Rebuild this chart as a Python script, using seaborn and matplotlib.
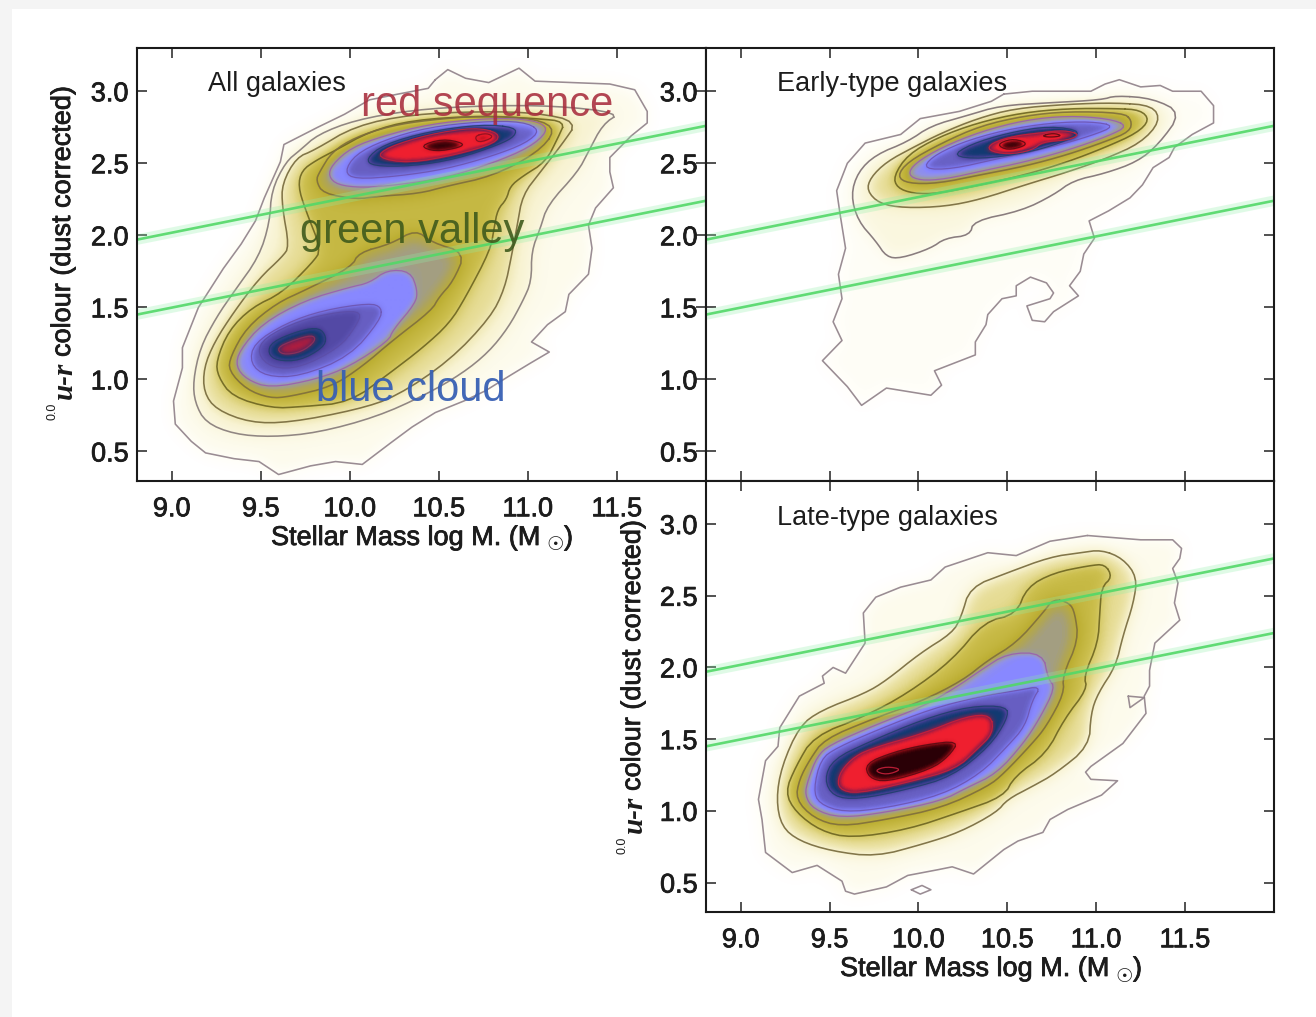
import numpy as np
import matplotlib
matplotlib.use("Agg")
import matplotlib.pyplot as plt
import matplotlib.patheffects as pe
from matplotlib.colors import LinearSegmentedColormap
from matplotlib.path import Path
from matplotlib.patches import Rectangle
import seaborn as sns

# ---------- axis data ----------
MASS_TICKS = [9.0, 9.5, 10.0, 10.5, 11.0, 11.5]
COLOUR_TICKS = [0.5, 1.0, 1.5, 2.0, 2.5, 3.0]
# green-valley boundaries: (mass, colour) at the panel edges
VALLEY_MASS = [8.805, 12.0]
VALLEY_UPPER = [1.97, 2.76]
VALLEY_LOWER = [1.45, 2.24]

# ---------- All galaxies: contours (mass, colour) ----------
ALL_0 = [(10.48,3.08),(10.55,3.15),(10.65,3.09),(10.78,3.06),(10.95,3.16),(11.04,3.07),(11.25,3.06),(11.46,3.05),(11.60,3.01),(11.67,2.86),(11.67,2.78),(11.58,2.69),(11.46,2.54),(11.46,2.44),(11.48,2.33),(11.38,2.19),(11.34,2.07),(11.36,1.91),(11.34,1.73),(11.23,1.59),(11.21,1.47),(11.11,1.38),(11.02,1.26),(11.12,1.19),(11.01,1.11),(10.89,1.02),(10.76,0.92),(10.64,0.85),(10.48,0.77),(10.35,0.67),(10.23,0.56),(10.07,0.41),(9.92,0.43),(9.78,0.40),(9.60,0.34),(9.49,0.43),(9.35,0.45),(9.19,0.49),(9.11,0.57),(9.02,0.69),(9.01,0.85),(9.06,1.08),(9.06,1.22),(9.15,1.50),(9.29,1.77),(9.39,1.94),(9.47,2.10),(9.52,2.26),(9.61,2.51),(9.63,2.63),(9.82,2.75),(9.97,2.84),(10.11,2.94),(10.27,2.98),(10.44,3.02)]
ALL_1 = [(11.52,2.85),(11.42,2.77),(11.34,2.58),(11.28,2.44),(11.11,2.21),(11.07,2.05),(11.02,1.89),(11.02,1.68),(10.97,1.54),(10.89,1.36),(10.78,1.19),(10.63,1.04),(10.42,0.89),(10.15,0.74),(9.82,0.63),(9.56,0.60),(9.35,0.62),(9.19,0.70),(9.13,0.84),(9.12,0.99),(9.16,1.22),(9.25,1.43),(9.35,1.61),(9.49,1.85),(9.55,2.09),(9.56,2.31),(9.64,2.51),(9.72,2.59),(9.82,2.70),(10.03,2.80),(10.35,2.87),(10.74,2.90),(11.15,2.90)]
ALL_2 = [(11.28,2.79),(11.19,2.63),(11.07,2.44),(10.97,2.28),(10.94,2.07),(10.91,1.87),(10.87,1.63),(10.79,1.43),(10.56,1.13),(10.26,0.88),(10.04,0.79),(9.66,0.70),(9.44,0.70),(9.25,0.79),(9.18,0.91),(9.18,1.08),(9.24,1.26),(9.35,1.47),(9.49,1.70),(9.62,1.85),(9.66,1.92),(9.62,2.20),(9.62,2.36),(9.70,2.54),(9.80,2.59),(10.03,2.76),(10.35,2.84),(10.74,2.86),(11.05,2.85)]
ALL_3 = [(11.21,2.79),(11.17,2.68),(11.10,2.51),(10.97,2.41),(10.90,2.34),(10.88,2.25),(10.83,2.18),(10.81,2.05),(10.79,1.90),(10.65,1.57),(10.56,1.39),(10.41,1.22),(10.22,1.04),(10.00,0.84),(9.73,0.81),(9.56,0.80),(9.34,0.88),(9.26,1.02),(9.25,1.13),(9.32,1.34),(9.45,1.50),(9.62,1.60),(9.79,1.81),(9.84,1.90),(9.75,2.18),(9.71,2.34),(9.73,2.45),(9.81,2.52),(9.92,2.59),(10.11,2.72),(10.35,2.80),(10.74,2.83),(11.05,2.81)]
ALL_4_RED = [(11.16,2.73),(11.05,2.57),(10.80,2.41),(10.54,2.34),(10.39,2.29),(10.15,2.27),(10.04,2.25),(9.85,2.29),(9.81,2.38),(9.83,2.44),(9.90,2.58),(10.03,2.68),(10.23,2.76),(10.44,2.80),(10.74,2.83),(11.05,2.81)]
ALL_4_BLUE = [(10.05,1.88),(10.23,1.94),(10.37,2.04),(10.46,1.95),(10.65,1.88),(10.58,1.68),(10.50,1.57),(10.46,1.48),(10.24,1.27),(10.07,1.09),(9.90,0.95),(9.66,0.88),(9.55,0.87),(9.42,0.93),(9.32,1.06),(9.33,1.16),(9.42,1.36),(9.59,1.53),(9.75,1.62),(10.01,1.78)]
ALL_5_RED = [(11.11,2.72),(11.08,2.78),(10.95,2.81),(10.74,2.81),(10.44,2.77),(10.19,2.69),(10.01,2.61),(9.90,2.49),(9.88,2.41),(9.93,2.35),(10.07,2.33),(10.27,2.35),(10.54,2.40),(10.80,2.50),(11.01,2.61)]
ALL_5_BLUE = [(10.21,1.76),(10.34,1.75),(10.38,1.62),(10.37,1.53),(10.24,1.34),(10.22,1.27),(10.00,1.09),(9.81,1.00),(9.55,0.94),(9.42,1.00),(9.36,1.09),(9.38,1.20),(9.51,1.39),(9.75,1.55),(10.00,1.64),(10.11,1.67)]
ALL_6_RED = [(11.07,2.73),(10.97,2.79),(10.74,2.79),(10.44,2.75),(10.19,2.66),(10.03,2.56),(9.97,2.44),(10.03,2.39),(10.27,2.41),(10.54,2.46),(10.80,2.55),(10.99,2.64)]
ALL_6_BLUE = [(10.18,1.50),(10.17,1.41),(10.00,1.16),(9.72,1.02),(9.53,1.02),(9.44,1.11),(9.46,1.25),(9.64,1.39),(9.85,1.48),(10.11,1.53)]
ALL_7_BLUE = [(10.03,1.36),(9.94,1.22),(9.72,1.08),(9.56,1.08),(9.48,1.18),(9.52,1.29),(9.72,1.41),(9.94,1.47),(10.07,1.47)]
ALL_8_RED = [(10.93,2.75),(10.74,2.77),(10.44,2.72),(10.19,2.63),(10.09,2.53),(10.13,2.48),(10.35,2.48),(10.60,2.53),(10.84,2.63),(10.93,2.69)]
ALL_8_BLUE = [(9.87,1.29),(9.85,1.22),(9.72,1.13),(9.59,1.13),(9.54,1.18),(9.56,1.26),(9.72,1.34),(9.83,1.36)]
ALL_9_RED = [(10.84,2.71),(10.70,2.75),(10.44,2.70),(10.21,2.61),(10.15,2.54),(10.33,2.50),(10.60,2.56),(10.82,2.64)]
ALL_9_BLUE = [(9.81,1.27),(9.73,1.19),(9.62,1.17),(9.59,1.22),(9.68,1.27),(9.79,1.31)]
ALL_10_A = [(10.64,2.64),(10.52,2.67),(10.39,2.62),(10.48,2.58),(10.62,2.61)]
ALL_10_B = [(10.70,2.69),(10.77,2.71),(10.81,2.68),(10.72,2.64)]

# ---------- Early-type galaxies ----------
EARLY_0 = [(10.48,2.98),(10.64,3.00),(10.97,3.00),(11.05,3.05),(11.13,3.08),(11.25,3.03),(11.36,3.04),(11.43,3.00),(11.59,3.00),(11.66,2.90),(11.66,2.78),(11.54,2.70),(11.44,2.61),(11.41,2.54),(11.32,2.47),(11.26,2.35),(11.19,2.26),(11.07,2.17),(10.96,2.10),(10.99,1.98),(10.93,1.87),(10.91,1.75),(10.85,1.65),(10.90,1.58),(10.76,1.47),(10.71,1.40),(10.64,1.41),(10.61,1.51),(10.74,1.56),(10.76,1.60),(10.72,1.67),(10.63,1.71),(10.55,1.65),(10.55,1.58),(10.47,1.56),(10.39,1.45),(10.38,1.38),(10.32,1.26),(10.32,1.17),(10.09,1.06),(10.13,0.96),(10.07,0.89),(9.82,0.94),(9.68,0.82),(9.60,0.95),(9.46,1.13),(9.57,1.27),(9.52,1.40),(9.57,1.56),(9.55,1.73),(9.59,1.91),(9.56,2.14),(9.54,2.31),(9.60,2.50),(9.70,2.64),(9.90,2.70),(10.01,2.81),(10.23,2.86),(10.41,2.93)]
EARLY_1 = [(11.11,2.97),(11.32,2.95),(11.48,2.85),(11.35,2.63),(11.23,2.51),(11.05,2.43),(10.87,2.38),(10.76,2.28),(10.58,2.17),(10.31,2.10),(10.29,2.00),(10.15,1.98),(10.07,1.91),(9.90,1.84),(9.82,1.85),(9.76,1.96),(9.66,2.10),(9.62,2.28),(9.66,2.44),(9.76,2.56),(9.94,2.65),(10.07,2.76),(10.27,2.83),(10.46,2.90),(10.74,2.92),(11.03,2.94)]
EARLY_2 = [(11.11,2.92),(11.32,2.90),(11.36,2.79),(11.25,2.64),(11.05,2.53),(10.84,2.44),(10.60,2.35),(10.35,2.25),(10.15,2.20),(9.92,2.19),(9.78,2.22),(9.71,2.31),(9.73,2.40),(9.82,2.51),(9.97,2.61),(10.13,2.71),(10.33,2.81),(10.54,2.88),(10.84,2.91)]
EARLY_3 = [(11.11,2.88),(11.25,2.87),(11.30,2.80),(11.23,2.71),(11.05,2.61),(10.84,2.51),(10.60,2.42),(10.35,2.35),(10.11,2.29),(9.97,2.29),(9.88,2.33),(9.86,2.41),(9.94,2.56),(10.11,2.68),(10.33,2.78),(10.58,2.85),(10.84,2.88)]
EARLY_4 = [(11.20,2.80),(11.15,2.85),(10.84,2.86),(10.60,2.83),(10.35,2.76),(10.13,2.64),(9.94,2.51),(9.88,2.41),(9.94,2.36),(10.11,2.36),(10.35,2.42),(10.60,2.48),(10.84,2.56),(11.05,2.65),(11.19,2.72)]
EARLY_5 = [(11.18,2.76),(11.07,2.81),(10.84,2.83),(10.60,2.80),(10.35,2.72),(10.13,2.61),(9.98,2.50),(9.94,2.42),(10.01,2.38),(10.15,2.39),(10.37,2.45),(10.60,2.51),(10.84,2.59),(11.07,2.69)]
EARLY_6 = [(11.11,2.76),(10.97,2.79),(10.74,2.78),(10.48,2.73),(10.23,2.64),(10.07,2.54),(10.03,2.46),(10.19,2.46),(10.44,2.53),(10.74,2.61),(10.97,2.69)]
EARLY_7 = [(10.93,2.72),(10.74,2.76),(10.50,2.71),(10.29,2.63),(10.19,2.55),(10.35,2.53),(10.60,2.57),(10.80,2.64)]
EARLY_8 = [(10.91,2.70),(10.82,2.73),(10.68,2.71),(10.54,2.69),(10.41,2.64),(10.39,2.59),(10.50,2.56),(10.64,2.59),(10.70,2.65),(10.84,2.66)]
EARLY_9_A = [(10.60,2.65),(10.52,2.67),(10.44,2.63),(10.50,2.59),(10.60,2.62)]
EARLY_9_B = [(10.69,2.69),(10.76,2.71),(10.81,2.69),(10.74,2.68)]

# ---------- Late-type galaxies ----------
LATE_0 = [(10.95,2.92),(11.05,2.91),(11.25,2.89),(11.43,2.89),(11.48,2.83),(11.47,2.76),(11.43,2.69),(11.46,2.59),(11.44,2.45),(11.47,2.33),(11.33,2.17),(11.30,1.98),(11.30,1.87),(11.27,1.80),(11.28,1.68),(11.15,1.47),(10.97,1.31),(10.94,1.27),(10.97,1.22),(11.12,1.21),(11.03,1.11),(10.84,1.01),(10.74,0.94),(10.70,0.85),(10.56,0.79),(10.48,0.73),(10.31,0.56),(10.19,0.61),(10.11,0.59),(9.94,0.55),(9.82,0.47),(9.64,0.42),(9.59,0.44),(9.57,0.51),(9.43,0.62),(9.29,0.57),(9.14,0.71),(9.12,0.94),(9.10,1.08),(9.14,1.35),(9.21,1.45),(9.22,1.58),(9.33,1.80),(9.47,1.89),(9.46,1.94),(9.52,2.00),(9.59,1.96),(9.70,2.17),(9.69,2.38),(9.76,2.49),(9.90,2.56),(10.07,2.61),(10.15,2.70),(10.39,2.80),(10.55,2.78),(10.74,2.88)]
LATE_1 = [(11.03,2.82),(11.15,2.76),(11.23,2.63),(11.21,2.45),(11.15,2.22),(11.11,2.01),(11.01,1.82),(10.97,1.68),(10.96,1.45),(10.77,1.26),(10.64,1.17),(10.50,1.08),(10.44,0.99),(10.23,0.85),(10.03,0.77),(9.76,0.68),(9.51,0.72),(9.33,0.79),(9.23,0.89),(9.20,1.08),(9.23,1.31),(9.33,1.59),(9.45,1.70),(9.70,1.82),(9.82,1.91),(10.01,2.10),(10.19,2.24),(10.24,2.35),(10.29,2.56),(10.50,2.66),(10.74,2.77),(10.91,2.80)]
LATE_2 = [(11.05,2.72),(11.09,2.63),(11.03,2.56),(11.02,2.38),(11.01,2.17),(10.93,1.94),(10.95,1.85),(10.82,1.64),(10.72,1.40),(10.54,1.24),(10.48,1.10),(10.23,0.99),(9.94,0.87),(9.62,0.81),(9.45,0.86),(9.31,0.99),(9.25,1.13),(9.31,1.31),(9.41,1.52),(9.70,1.66),(9.94,1.82),(10.19,2.05),(10.37,2.32),(10.55,2.37),(10.61,2.56),(10.76,2.66),(10.96,2.71)]
LATE_3 = [(10.76,2.48),(10.85,2.45),(10.88,2.38),(10.90,2.19),(10.81,1.94),(10.82,1.82),(10.72,1.59),(10.64,1.47),(10.48,1.26),(10.39,1.17),(10.13,1.02),(9.82,0.94),(9.56,0.89),(9.41,0.95),(9.31,1.08),(9.33,1.22),(9.39,1.36),(9.47,1.50),(9.74,1.64),(10.01,1.76),(10.25,1.91),(10.39,2.05),(10.55,2.17),(10.70,2.38)]
LATE_4 = [(10.70,2.10),(10.73,1.92),(10.77,1.86),(10.68,1.64),(10.59,1.47),(10.44,1.26),(10.27,1.16),(10.13,1.07),(9.82,0.99),(9.56,0.95),(9.41,1.01),(9.36,1.11),(9.38,1.22),(9.43,1.38),(9.50,1.46),(9.76,1.60),(10.03,1.73),(10.21,1.86),(10.35,1.98),(10.50,2.10)]
LATE_5 = [(10.69,1.87),(10.64,1.77),(10.60,1.59),(10.50,1.45),(10.35,1.26),(10.13,1.11),(9.82,1.02),(9.58,0.99),(9.44,1.05),(9.41,1.15),(9.45,1.36),(9.54,1.44),(9.78,1.57),(10.07,1.71),(10.35,1.80),(10.56,1.84)]
LATE_6 = [(10.50,1.73),(10.50,1.64),(10.40,1.45),(10.19,1.24),(9.94,1.15),(9.66,1.08),(9.52,1.10),(9.47,1.22),(9.52,1.36),(9.72,1.48),(10.03,1.64),(10.29,1.73)]
LATE_7 = [(10.41,1.67),(10.42,1.54),(10.33,1.43),(10.21,1.29),(9.94,1.20),(9.66,1.12),(9.55,1.15),(9.55,1.25),(9.62,1.36),(9.72,1.43),(10.03,1.54),(10.27,1.66)]
LATE_8 = [(10.23,1.49),(10.17,1.38),(10.07,1.29),(9.82,1.20),(9.72,1.23),(9.70,1.33),(9.86,1.41),(10.03,1.46)]
LATE_CORE = [(9.91,1.29),(9.82,1.25),(9.75,1.28),(9.82,1.31)]
LATE_ISLAND_A = [(11.18,1.80),(11.27,1.79),(11.19,1.72)]
LATE_ISLAND_B = [(9.96,0.45),(10.02,0.48),(10.07,0.45),(10.01,0.42)]

ALL_LAYERS = [(ALL_0,1),(ALL_1,2),(ALL_2,3),(ALL_3,4),(ALL_4_RED,5),(ALL_4_BLUE,5),(ALL_5_RED,6),(ALL_5_BLUE,6),
              (ALL_6_RED,7),(ALL_6_BLUE,7),(ALL_7_BLUE,7.4),(ALL_8_RED,8),(ALL_8_BLUE,8),(ALL_9_RED,9),(ALL_9_BLUE,8.7),
              (ALL_10_A,10),(ALL_10_B,9.6)]
EARLY_LAYERS = [(EARLY_0,0.5),(EARLY_1,1.5),(EARLY_2,3),(EARLY_3,4),(EARLY_4,5),(EARLY_5,6),(EARLY_6,7),(EARLY_7,8),
                (EARLY_8,9),(EARLY_9_A,10),(EARLY_9_B,10)]
LATE_LAYERS = [(LATE_0,1),(LATE_1,3),(LATE_2,4),(LATE_3,5),(LATE_4,6),(LATE_5,7),(LATE_6,8),(LATE_7,9),(LATE_8,10)]
LATE_OUTLINES = [(LATE_CORE,9),(LATE_ISLAND_A,1),(LATE_ISLAND_B,1)]

# ---------- styling ----------
W, H = 1316, 1017
FONT = ['Liberation Sans', 'DejaVu Sans']
INK = '#1c1c1c'
XLIM = (8.805, 12.0)
YLIM = (0.295, 3.30)

sns.set_theme(style='ticks')
plt.rcParams['font.family'] = FONT
plt.rcParams['axes.unicode_minus'] = False

RAMP = [(0.0, '#ffffff'), (0.4, '#fffef8'), (1.0, '#fdfbec'), (2.0, '#f8f3d2'), (3.0, '#e6dc94'), (3.7, '#cdc050'),
        (4.4, '#bcae32'), (4.8, '#aea45c'), (5.0, '#a29e86'), (5.45, '#9c9ca0'), (5.8, '#9292e4'), (6.0, '#8888ff'),
        (6.6, '#7a76ea'), (7.0, '#6860c4'), (7.6, '#4a3f98'), (8.0, '#123a72'), (8.5, '#80204e'), (8.8, '#c01c3a'),
        (9.0, '#f02030'), (9.4, '#e01828'), (9.7, '#700810'), (10.0, '#2a0006')]
CMAP = LinearSegmentedColormap.from_list('density', [(v / 10, c) for v, c in RAMP])
LINE_COLOURS = {0.5: '#8f8088', 1: '#8f8088', 1.5: '#7d6f72', 2: '#857a78', 3: '#75683a', 4: '#6c6420', 5: '#7f6e3c',
                6: '#9a5fae', 7: '#6d55b0', 7.4: '#5c4ea8', 8: '#20406e', 8.7: '#90305a', 9: '#c8203a', 9.6: '#8a1020', 10: '#5a0a12'}
HEAVY = [pe.withStroke(linewidth=0.55, foreground=INK)]


def fx(px):
    return px / W


def fy(py):
    return 1 - py / H


def rounded(points, level):
    pts = np.array(points + [points[0]], dtype=float)
    if level <= 1:
        return pts
    for _ in range(2):
        closed = pts[:-1]
        nxt = np.roll(closed, -1, axis=0)
        q = 0.75 * closed + 0.25 * nxt
        r = 0.25 * closed + 0.75 * nxt
        pts = np.empty((2 * len(closed) + 1, 2))
        pts[:-1:2], pts[1:-1:2] = q, r
        pts[-1] = q[0]
    return pts


def blur(a, sigma):
    radius = int(3 * sigma)
    kernel = np.exp(-0.5 * (np.arange(-radius, radius + 1) / sigma) ** 2)
    kernel /= kernel.sum()
    a = np.apply_along_axis(lambda v: np.convolve(v, kernel, mode='same'), 0, a)
    return np.apply_along_axis(lambda v: np.convolve(v, kernel, mode='same'), 1, a)


MASS_AXIS = np.linspace(XLIM[0], XLIM[1], 568)
COLOUR_AXIS = np.linspace(YLIM[0], YLIM[1], 432)
GRID = np.column_stack([g.ravel() for g in np.meshgrid(MASS_AXIS, COLOUR_AXIS)])


def panel(ax, layers, outlines=()):
    field = np.zeros((len(COLOUR_AXIS), len(MASS_AXIS)))
    shapes = []
    for points, level in layers:
        pts = rounded(points, level)
        shapes.append((pts, level))
        mask = Path(pts).contains_points(GRID).reshape(field.shape)
        field[mask] = np.maximum(field[mask], level)
    smooth = blur(np.minimum(field, 5.0), 8.0) + blur(np.maximum(field - 5.0, 0.0), 2.8)
    ax.imshow(smooth, origin='lower', extent=(*XLIM, *YLIM), cmap=CMAP, vmin=0, vmax=10, aspect='auto',
              interpolation='bilinear', zorder=1)
    shapes += [(rounded(p, lv), lv) for p, lv in outlines]
    for pts, level in shapes:
        sns.lineplot(x=pts[:, 0], y=pts[:, 1], sort=False, estimator=None, ax=ax, legend=False, zorder=2,
                     color=LINE_COLOURS[level], linewidth=1.15 if level < 6 else 0.9, alpha=0.9)
    for upper in (VALLEY_UPPER, VALLEY_LOWER):
        sns.lineplot(x=VALLEY_MASS, y=upper, sort=False, estimator=None, ax=ax, legend=False, zorder=3,
                     color='#8ff0a8', linewidth=7.5, alpha=0.28)
        sns.lineplot(x=VALLEY_MASS, y=upper, sort=False, estimator=None, ax=ax, legend=False, zorder=3,
                     color='#52d868', linewidth=1.9, alpha=0.9)
    ax.set_xlim(*XLIM)
    ax.set_ylim(*YLIM)
    ax.set_xticks(MASS_TICKS)
    ax.set_yticks(COLOUR_TICKS)
    ax.set_xticklabels([f'{v:.1f}' for v in MASS_TICKS])
    ax.set_yticklabels([f'{v:.1f}' for v in COLOUR_TICKS])
    ax.set_xlabel('')
    ax.set_ylabel('')
    ax.set_axisbelow(False)
    ax.tick_params(direction='in', length=7, width=1.1, color='#222222', top=True, right=True,
                   labelsize=19.5, labelcolor=INK)
    ax.tick_params(axis='x', pad=11)
    ax.tick_params(axis='y', pad=6)
    for label in ax.get_xticklabels() + ax.get_yticklabels():
        label.set_path_effects(HEAVY)
    for spine in ax.spines.values():
        spine.set_linewidth(1.5)
        spine.set_color('#1a1a1a')
        spine.set_zorder(5)


fig = plt.figure(figsize=(W / 100, H / 100), dpi=100, facecolor='#f4f4f4')
fig.add_artist(Rectangle((fx(12), 0), 1 - fx(12), fy(9), transform=fig.transFigure, facecolor='white',
                         edgecolor='none', zorder=-5))


def axes_at(left, top, right, bottom):
    ax = fig.add_axes([fx(left), fy(bottom), fx(right - left), fy(top) - fy(bottom)])
    ax.set_facecolor('white')
    return ax


ax_all = axes_at(137, 48, 706, 481)
ax_early = axes_at(706, 48, 1274, 481)
ax_late = axes_at(706, 481, 1274, 912)

panel(ax_all, ALL_LAYERS)
panel(ax_early, EARLY_LAYERS)
ax_early.tick_params(axis='x', labelbottom=False)
panel(ax_late, LATE_LAYERS, LATE_OUTLINES)


def put(px, py, s, heavy=True, **kw):
    kw.setdefault('color', INK)
    kw.setdefault('fontsize', 19.5)
    kw.setdefault('va', 'center')
    kw.setdefault('family', FONT)
    kw.setdefault('zorder', 20)
    t = fig.text(fx(px), fy(py), s, **kw)
    if heavy:
        t.set_path_effects(HEAVY)
    return t


put(208, 84, 'All galaxies', heavy=False)
put(777, 84, 'Early-type galaxies', heavy=False)
put(777, 518, 'Late-type galaxies', heavy=False)

put(361, 105, 'red sequence', heavy=False, fontsize=30, color='#a82c3c', alpha=0.88)
put(300, 232, 'green valley', heavy=False, fontsize=30, color='#3f5a1c', alpha=0.9)
put(316, 390, 'blue cloud', heavy=False, fontsize=30, color='#3860b4', alpha=0.95)

for dx, dy in ((0, 0), (569, 431)):
    put(271 + dx, 538 + dy, 'Stellar Mass log M. (M')
    put(546 + dx, 545 + dy, '\u2609', heavy=False, fontsize=14, family=['DejaVu Sans'], ha='left')
    put(564 + dx, 538 + dy, ')')

for dx, dy, base in ((0, 0, 357), (570, 434, 357)):
    put(63 + dx, base + dy, 'colour (dust corrected)', rotation=90, ha='center', va='bottom')
    put(64 + dx, base + 42 + dy, 'u-r', rotation=90, ha='center', va='bottom', family=['Liberation Serif'],
        style='italic', weight='bold', fontsize=21, heavy=False)
    put(53 + dx, base + 63 + dy, '0.0', rotation=90, ha='center', va='bottom', fontsize=9, heavy=False)

fig.savefig('out.png', dpi=100, facecolor=fig.get_facecolor())
